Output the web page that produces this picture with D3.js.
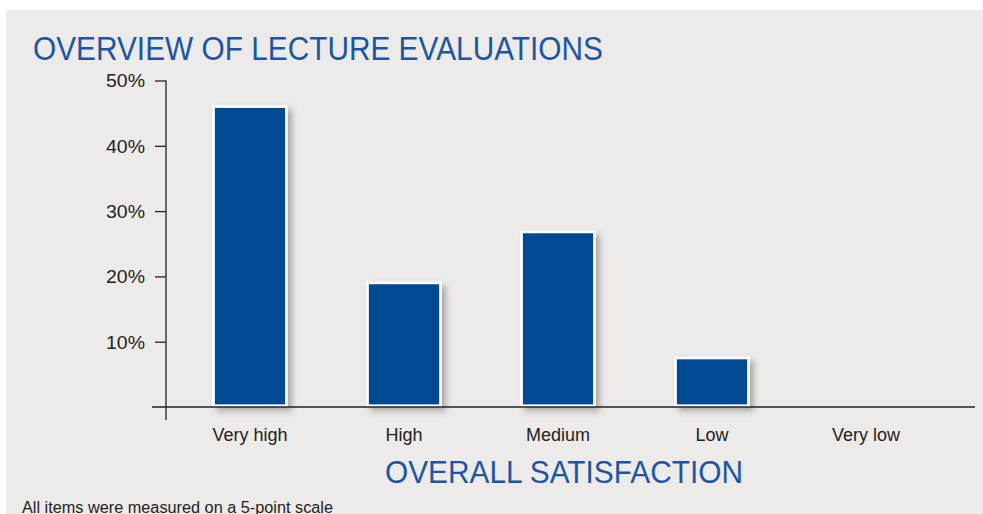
<!DOCTYPE html>
<html>
<head>
<meta charset="utf-8">
<script src="https://cdn.jsdelivr.net/npm/d3@7/dist/d3.min.js"></script>
<style>
  html, body { margin: 0; padding: 0; background: #ffffff; }
  svg { display: block; }
  text { font-family: "Liberation Sans", Arial, Helvetica, sans-serif; }
</style>
</head>
<body>
<svg id="chart" width="983" height="514"></svg>
<script>
// ---- data ----
const categories = ["Very high", "High", "Medium", "Low", "Very low"];
const values = [46.2, 19.2, 27.0, 7.7, 0];
const yTicks = [10, 20, 30, 40, 50];
const chartTitle = "OVERVIEW OF LECTURE EVALUATIONS";
const xAxisTitle = "OVERALL SATISFACTION";
const footnote = "All items were measured on a 5-point scale";

const W = 983, H = 514;
const svg = d3.select("#chart");

// panel background
svg.append("rect").attr("x", 6).attr("y", 10).attr("width", W - 6).attr("height", H - 10)
  .attr("fill", "#edebe9");

// drop shadow filter
const defs = svg.append("defs");
const f = defs.append("filter").attr("id", "shadow")
  .attr("x", "-20%").attr("y", "-20%").attr("width", "150%").attr("height", "150%");
f.append("feDropShadow").attr("dx", 4).attr("dy", 4).attr("stdDeviation", 3)
  .attr("flood-color", "#555").attr("flood-opacity", 0.45);

// scales
const x = d3.scaleBand().domain(categories).range([173, 943]).padding(0);
const y = d3.scaleLinear().domain([0, 50]).range([407, 80.5]);
const barFrac = 0.49;

// bars
svg.append("g").selectAll("rect").data(values.map((v, i) => ({ c: categories[i], v })))
  .join("rect")
  .filter(d => d.v > 0)
  .attr("x", d => x(d.c) + x.bandwidth() * (1 - barFrac) / 2 + 1.3)
  .attr("y", d => y(d.v) + 1.3)
  .attr("width", x.bandwidth() * barFrac - 2.6)
  .attr("height", d => y(0) - y(d.v) - 2.6)
  .attr("fill", "#004a94")
  .attr("stroke", "#ffffff")
  .attr("stroke-width", 2.6)
  .attr("filter", "url(#shadow)");

// y axis
const yAxis = d3.axisLeft(y).tickValues(yTicks).tickSize(11).tickPadding(10)
  .tickFormat(d => d + "%");
const gy = svg.append("g").attr("transform", "translate(166,0)").call(yAxis);
gy.select(".domain").remove();
gy.selectAll(".tick line").attr("stroke", "#222").attr("stroke-width", 1.3);
gy.selectAll(".tick text").attr("fill", "#222").style("font-size", "17.5px")
  .attr("dy", "0.36em")
  .attr("textLength", 39).attr("lengthAdjust", "spacingAndGlyphs");
svg.append("line").attr("x1", 166).attr("x2", 166)
  .attr("y1", y(50)).attr("y2", y(0) + 13)
  .attr("stroke", "#222").attr("stroke-width", 1.3);

// x axis
svg.append("line").attr("x1", 152).attr("x2", 975)
  .attr("y1", y(0)).attr("y2", y(0))
  .attr("stroke", "#222").attr("stroke-width", 1.3);
const xAxis = d3.axisBottom(x).tickSize(0).tickPadding(0);
const gx = svg.append("g").attr("transform", `translate(0,${y(0)})`).call(xAxis);
gx.select(".domain").remove();
gx.selectAll(".tick text").attr("fill", "#222").attr("dy", null).attr("y", 34)
  .style("font-size", "18px");

// titles
svg.append("text").attr("x", 33).attr("y", 60).text(chartTitle)
  .attr("fill", "#1c55a3").style("font-size", "33px")
  .attr("textLength", 570).attr("lengthAdjust", "spacingAndGlyphs");
svg.append("text").attr("x", 564).attr("y", 483).attr("text-anchor", "middle")
  .text(xAxisTitle).attr("fill", "#1c55a3").style("font-size", "31px")
  .attr("textLength", 358).attr("lengthAdjust", "spacingAndGlyphs");
svg.append("text").attr("x", 22).attr("y", 512.5).text(footnote)
  .attr("fill", "#222").style("font-size", "16px")
  .attr("textLength", 311).attr("lengthAdjust", "spacingAndGlyphs");
</script>
</body>
</html>
